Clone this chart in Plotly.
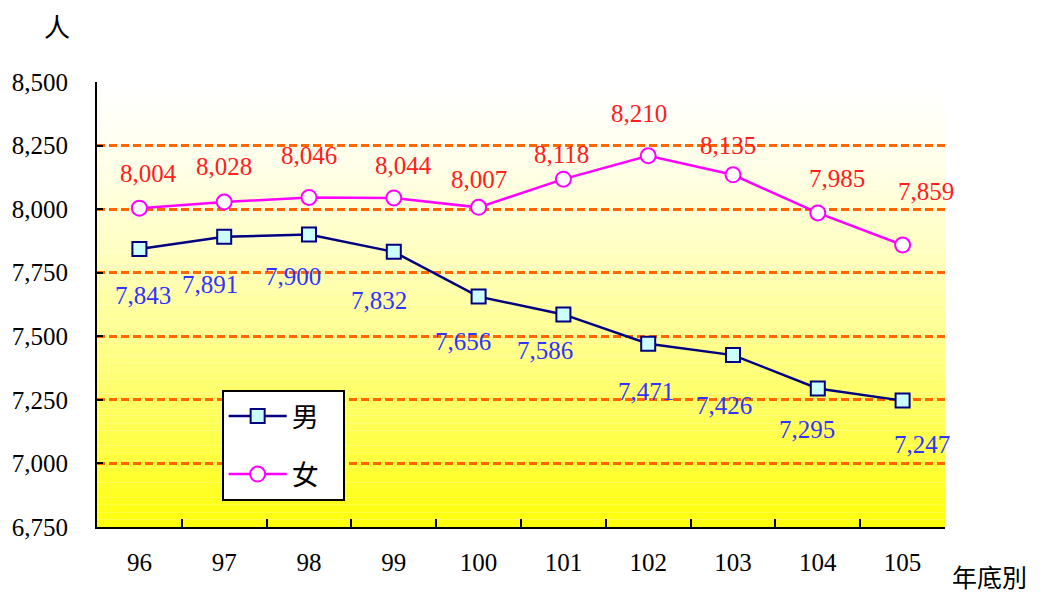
import plotly.graph_objects as go

years = ['96', '97', '98', '99', '100', '101', '102', '103', '104', '105']
male = [7843, 7891, 7900, 7832, 7656, 7586, 7471, 7426, 7295, 7247]
female = [8004, 8028, 8046, 8044, 8007, 8118, 8210, 8135, 7985, 7859]
y_ticks = [6750, 7000, 7250, 7500, 7750, 8000, 8250, 8500]

# label nudges (pixels), roughly as placed in the original
male_dx = [4, -14, -16, -15, -16, -18, -2, -9, -11, 19]
male_dy = [-46, -48, -42, -49, -45, -36, -48, -50, -41, -44]
female_dx = [9, 0, 0, 10, 0, -2, -9, -5, 19, 23]
female_dy = [35, 36, 42, 32, 28, 25, 42, 29, 34, 54]

SERIF = 'Liberation Serif, Times New Roman, DejaVu Serif, serif'
CJK = 'Noto Sans CJK TC'

fig = go.Figure()

fig.add_trace(go.Scatter(
    x=years, y=male, mode='lines+markers', name='男\u00a0\u00a0\u00a0',
    legendgroup='m',
    line=dict(color='#000080', width=2.5),
    marker=dict(symbol='square', size=14, color='#CCFFFF',
                line=dict(color='#000080', width=2)),
))
fig.add_trace(go.Scatter(
    x=years, y=female, mode='lines+markers', name='女\u00a0\u00a0\u00a0',
    legendgroup='f',
    line=dict(color='#FF00FF', width=2.5),
    marker=dict(symbol='circle', size=15, color='white',
                line=dict(color='#FF00FF', width=2)),
))

# category axis: annotations placed by index
for i, v in enumerate(male):
    fig.add_annotation(x=i, y=v, text=f'{v:,}', showarrow=False,
                       xshift=male_dx[i], yshift=male_dy[i],
                       font=dict(family=SERIF, size=25, color='#3333FF'))
for i, v in enumerate(female):
    fig.add_annotation(x=i, y=v, text=f'{v:,}', showarrow=False,
                       xshift=female_dx[i], yshift=female_dy[i],
                       font=dict(family=SERIF, size=25, color='#FF2020'))

# white -> yellow gradient behind the plot
n = 60
for k in range(n):
    t = ((k + 0.5) / n) ** 1.4
    b = int(round(255 * (1 - t) + 10 * t))
    fig.add_shape(type='rect', xref='x domain', yref='y domain',
                  x0=0, x1=1, y0=1 - (k + 1) / n, y1=1 - k / n,
                  fillcolor=f'rgb(255,255,{b})', line=dict(width=0),
                  layer='below')

fig.add_annotation(text='人', xref='paper', yref='paper', x=-0.047, y=1.128,
                   showarrow=False, xanchor='center', yanchor='middle',
                   font=dict(family=CJK, size=26, color='black'))
fig.add_annotation(text='年底別', xref='paper', yref='paper', x=1.006, y=-0.11,
                   showarrow=False, xanchor='left', yanchor='middle',
                   font=dict(family=CJK, size=25, color='black'))

fig.update_layout(
    width=1047, height=595,
    margin=dict(l=97, r=102, t=82, b=68),
    paper_bgcolor='white',
    plot_bgcolor='rgba(0,0,0,0)',
    showlegend=True,
    legend=dict(x=0.147, y=0.308, xanchor='left', yanchor='top',
                bgcolor='white', bordercolor='black', borderwidth=2,
                font=dict(family=CJK, size=27, color='black'),
                itemwidth=58, tracegroupgap=20),
    xaxis=dict(
        type='category', showgrid=False, showline=True, linecolor='black',
        linewidth=2, ticks='inside', tickson='boundaries', ticklen=8,
        tickcolor='black', tickwidth=2,
        tickfont=dict(family=SERIF, size=25, color='black'),
        ticklabelstandoff=12,
        range=[-0.5, 9.5],
    ),
    yaxis=dict(
        range=[6750, 8500], tickvals=y_ticks,
        ticktext=[f'{v:,}' for v in y_ticks],
        showgrid=True, gridcolor='#FF6600', griddash='8px,4px', gridwidth=2.5,
        showline=True, linecolor='black', linewidth=2,
        ticks='inside', ticklen=6, tickcolor='black', tickwidth=2,
        tickfont=dict(family=SERIF, size=25, color='black'),
        ticklabelstandoff=22, zeroline=False,
    ),
)

fig.write_html('out.html', config={'displayModeBar': False},
               post_script="document.body.style.margin='0';")
